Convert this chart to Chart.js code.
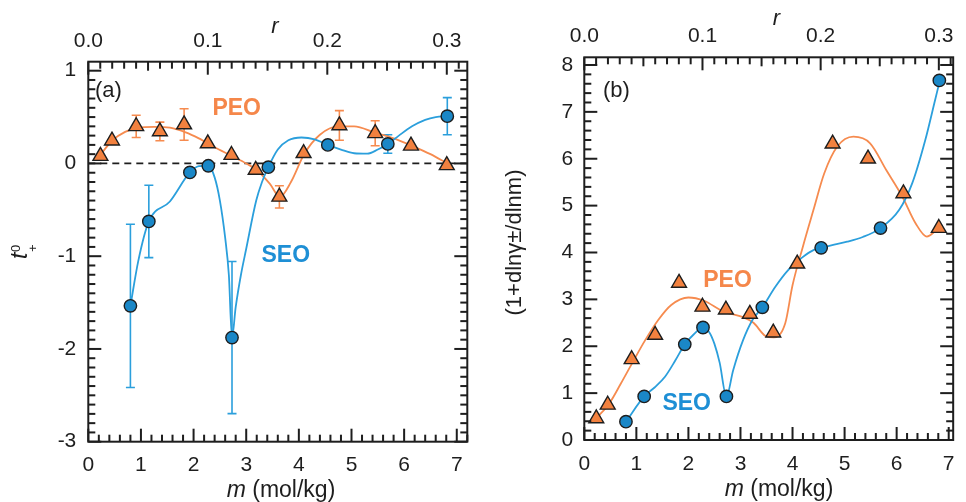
<!DOCTYPE html>
<html>
<head>
<meta charset="utf-8">
<script src="https://cdn.jsdelivr.net/npm/chart.js@4.4.1/dist/chart.umd.min.js"></script>
<style>
  html, body { margin: 0; padding: 0; background: #fff; }
  #wrap { position: relative; width: 966px; height: 502px; overflow: hidden; }
  #ca { position: absolute; left: 0; top: 0; }
  #cb { position: absolute; left: 480px; top: 0; }
</style>
</head>
<body>
<div id="wrap">
  <canvas id="ca" width="480" height="502"></canvas>
  <canvas id="cb" width="486" height="502"></canvas>
</div>
<script>
// r = [Li]/[EO] follows from molality through the EO repeat-unit mass (kg/mol)
const EO_MASS = 0.04405;

// Molalities of the measured electrolytes (mol/kg)
const peoM = [0.23, 0.45, 0.91, 1.36, 1.82, 2.27, 2.72, 3.18, 3.63, 4.09, 4.77, 5.45, 6.13, 6.81];
const seoM = [0.80, 1.15, 1.93, 2.28, 2.73, 3.42, 4.55, 5.69, 6.82];

// (a) cation transference number t+0
const peoT = [0.08, 0.245, 0.40, 0.345, 0.42, 0.215, 0.09, -0.07, -0.36, 0.11, 0.41, 0.325, 0.19, -0.02];
const peoTErr = [0, 0, 0.12, 0.10, 0.17, 0, 0, 0, 0.12, 0, 0.16, 0.135, 0, 0];
const seoT = [-1.535, -0.625, -0.097, -0.025, -1.877, -0.04, 0.20, 0.21, 0.51];
const seoTErr = [0.88, 0.39, 0, 0, 0.82, 0, 0, 0.10, 0.20];

// (a) guide-to-the-eye curves
const peoTCurveM = [0.2, 0.45, 0.7, 0.95, 1.25, 1.55, 1.85, 2.1, 2.4, 2.73, 3.0, 3.2, 3.45, 3.64, 3.85, 4.1, 4.4, 4.75, 5.05, 5.45, 5.8, 6.15, 6.5, 6.82];
const peoTCurve = [0.07, 0.245, 0.34, 0.385, 0.395, 0.385, 0.335, 0.27, 0.175, 0.08, 0.0, -0.07, -0.22, -0.36, -0.2, 0.1, 0.31, 0.4, 0.4, 0.33, 0.27, 0.19, 0.1, 0.0];
const seoTCurveM = [0.8, 0.95, 1.15, 1.55, 1.93, 2.1, 2.28, 2.4, 2.5, 2.6, 2.67, 2.73, 2.8, 2.9, 3.0, 3.19, 3.3, 3.42, 3.6, 3.8, 4.05, 4.3, 4.55, 4.8, 5.05, 5.3, 5.5, 5.69, 5.9, 6.15, 6.4, 6.6, 6.82];
const seoTCurve = [-1.535, -1.05, -0.625, -0.41, -0.097, -0.03, -0.025, -0.15, -0.4, -0.8, -1.2, -1.877, -1.55, -1.2, -0.92, -0.4, -0.2, -0.04, 0.15, 0.25, 0.28, 0.26, 0.2, 0.15, 0.11, 0.105, 0.15, 0.21, 0.3, 0.4, 0.47, 0.5, 0.51];

// (b) thermodynamic factor (1 + dln(gamma+-)/dln m)
const peoTF = [0.46, 0.75, 1.72, 2.24, 3.35, 2.84, 2.78, 2.69, 2.29, 3.76, 6.32, 6.0, 5.26, 4.52];
const seoTF = [0.39, 0.93, 2.04, 2.4, 0.93, 2.83, 4.1, 4.52, 7.67];

// (b) guide-to-the-eye curves
const peoTFCurveM = [0.23, 0.48, 0.7, 0.92, 1.17, 1.42, 1.67, 2.0, 2.3, 2.67, 3.05, 3.25, 3.48, 3.64, 3.86, 4.0, 4.2, 4.4, 4.61, 4.86, 5.17, 5.49, 5.8, 6.11, 6.36, 6.58, 6.77, 6.83];
const peoTFCurve = [0.46, 0.78, 1.2, 1.64, 2.13, 2.56, 2.88, 3.04, 2.97, 2.74, 2.62, 2.5, 2.22, 2.19, 2.49, 3.3, 4.13, 4.9, 5.69, 6.26, 6.47, 6.33, 5.76, 5.19, 4.63, 4.34, 4.48, 4.52];
const seoTFCurveM = [0.8, 1.15, 1.35, 1.55, 1.75, 1.93, 2.1, 2.28, 2.4, 2.5, 2.6, 2.73, 2.86, 3.05, 3.23, 3.42, 3.67, 3.92, 4.17, 4.42, 4.55, 4.8, 5.05, 5.35, 5.69, 6.05, 6.3, 6.55, 6.74, 6.83];
const seoTFCurve = [0.39, 0.93, 1.12, 1.35, 1.7, 2.04, 2.25, 2.4, 2.3, 2.05, 1.65, 0.93, 1.49, 2.13, 2.56, 2.83, 3.27, 3.63, 3.88, 4.06, 4.1, 4.17, 4.23, 4.33, 4.52, 4.91, 5.48, 6.4, 7.26, 7.67];

// Axis ranges
const A_X = [0, 7.2], A_Y = [-3, 1.097];
const B_X = [0, 7.086], B_Y = [0, 8.164];

const FONT = "'Liberation Sans', Arial, Helvetica, sans-serif";
const INK = '#1e1e1e';
const ORANGE_FILL = '#F2813F', ORANGE_LINE = '#F68B4F', ORANGE_TEXT = '#F5874A';
const BLUE_FILL = '#1A87C7', BLUE_LINE = '#2B9FDC', BLUE_TEXT = '#1E8FD5';

const pts = (xs, ys) => xs.map((x, i) => ({ x, y: ys[i] }));

function curveSet(xs, ys, color, order) {
  return {
    data: pts(xs, ys), showLine: true, borderColor: color, borderWidth: 1.8,
    pointRadius: 0, cubicInterpolationMode: 'monotone', order
  };
}
function markerSet(xs, ys, style, fill, radius, order, err, errColor) {
  return {
    data: pts(xs, ys), showLine: false, pointStyle: style, pointRadius: radius,
    pointBackgroundColor: fill, pointBorderColor: INK, pointBorderWidth: 1.4,
    order, errors: err, errorColor: errColor
  };
}

// vertical error bars with caps, drawn under the markers
const errorBars = {
  id: 'errorBars',
  beforeDatasetsDraw(chart) {
    const { ctx } = chart;
    const xs = chart.scales.x, ys = chart.scales.y;
    ctx.save();
    chart.data.datasets.forEach(ds => {
      if (!ds.errors) return;
      ctx.strokeStyle = ds.errorColor; ctx.lineWidth = 1.6;
      ds.data.forEach((p, i) => {
        const e = ds.errors[i];
        if (!e) return;
        const px = xs.getPixelForValue(p.x);
        const top = ys.getPixelForValue(p.y + e), bot = ys.getPixelForValue(p.y - e);
        ctx.beginPath();
        ctx.moveTo(px, top); ctx.lineTo(px, bot);
        ctx.moveTo(px - 4.5, top); ctx.lineTo(px + 4.5, top);
        ctx.moveTo(px - 4.5, bot); ctx.lineTo(px + 4.5, bot);
        ctx.stroke();
      });
    });
    ctx.restore();
  }
};

// inward tick marks on one edge of the plot area: major / optional mid / minor
function tickMarks(ctx, scale, lo, hi, minor, majorEvery, midEvery, edge, dir, horizontal) {
  const k0 = Math.round(lo / minor), k1 = Math.floor(hi / minor + 1e-6);
  for (let k = k0; k <= k1; k++) {
    const major = Math.abs(k) % majorEvery === 0;
    const mid = midEvery > 0 && Math.abs(k) % midEvery === 0;
    const len = major ? 13 : (mid ? 9 : 7);
    const p = scale.getPixelForValue(k * minor);
    if (horizontal) ctx.fillRect(p - 1, dir > 0 ? edge : edge - len, 2, len);
    else ctx.fillRect(dir > 0 ? edge : edge - len, p - 1, len, 2);
  }
}
function framePlugin(xr, yr, yMinor, yMajorEvery) {
  return {
    id: 'frame',
    afterDraw(chart) {
      const ctx = chart.ctx, a = chart.chartArea, s = chart.scales;
      ctx.save();
      ctx.fillStyle = INK;
      tickMarks(ctx, s.x, xr[0], xr[1], 0.2, 5, 0, a.bottom, -1, true);
      tickMarks(ctx, s.x2, xr[0] * EO_MASS, xr[1] * EO_MASS, 0.01, 10, 5, a.top, 1, true);
      tickMarks(ctx, s.y, yr[0], yr[1], yMinor, yMajorEvery, 0, a.left, 1, false);
      tickMarks(ctx, s.y, yr[0], yr[1], yMinor, yMajorEvery, 0, a.right, -1, false);
      ctx.strokeStyle = INK; ctx.lineWidth = 2;
      ctx.strokeRect(a.left, a.top, a.right - a.left, a.bottom - a.top);
      ctx.restore();
    }
  };
}

// text drawn inside and around the plot
function textPlugin(draw) {
  return { id: 'texts', afterDraw(chart) { const c = chart.ctx; c.save(); draw(c, chart); c.restore(); } };
}
function mixedTitle(ctx, cx, baseline, size) {
  const a = 'italic ' + size + 'px ' + FONT, b = size + 'px ' + FONT;
  ctx.font = a; const w1 = ctx.measureText('m').width;
  ctx.font = b; const w2 = ctx.measureText(' (mol/kg)').width;
  const x0 = cx - (w1 + w2) / 2;
  ctx.fillStyle = INK; ctx.textBaseline = 'alphabetic'; ctx.textAlign = 'left';
  ctx.font = a; ctx.fillText('m', x0, baseline);
  ctx.font = b; ctx.fillText(' (mol/kg)', x0 + w1, baseline);
}
function rLabel(ctx, cx, baseline) {
  ctx.fillStyle = INK; ctx.font = 'italic 22px ' + FONT;
  ctx.textAlign = 'center'; ctx.textBaseline = 'alphabetic';
  ctx.fillText('r', cx, baseline);
}
function seriesLabel(ctx, text, color, cx, baseline) {
  ctx.fillStyle = color; ctx.font = 'bold 23px ' + FONT;
  ctx.textAlign = 'center'; ctx.textBaseline = 'alphabetic';
  ctx.fillText(text, cx, baseline);
}

const tickFont = { family: FONT, size: 21 };

function axes(xr, yr, yStep, leftW, topH, bottomH, yPad, topPad, botPad) {
  return {
    x: {
      type: 'linear', axis: 'x', position: 'bottom', min: xr[0], max: xr[1],
      grid: { display: false, drawTicks: false }, border: { display: false },
      ticks: { stepSize: 1, includeBounds: false, font: tickFont, color: INK, padding: botPad, maxRotation: 0,
               callback: v => String(v) },
      afterFit: s => { s.height = bottomH; }
    },
    // top axis: r = m * EO_MASS
    x2: {
      type: 'linear', axis: 'x', position: 'top', min: xr[0] * EO_MASS, max: xr[1] * EO_MASS,
      grid: { display: false, drawTicks: false }, border: { display: false },
      ticks: { stepSize: 0.1, includeBounds: false, font: tickFont, color: INK, padding: topPad, maxRotation: 0,
               callback: v => v.toFixed(1) },
      afterFit: s => { s.height = topH; }
    },
    y: {
      type: 'linear', axis: 'y', position: 'left', min: yr[0], max: yr[1],
      grid: { display: false, drawTicks: false }, border: { display: false },
      ticks: { stepSize: yStep, includeBounds: false, font: tickFont, color: INK, padding: yPad,
               callback: v => String(v) },
      afterFit: s => { s.width = leftW; }
    }
  };
}

const common = {
  responsive: false, animation: false, events: [],
  plugins: { legend: { display: false }, tooltip: { enabled: false } }
};

// Panel (a)
new Chart(document.getElementById('ca'), {
  type: 'scatter',
  data: {
    datasets: [
      markerSet(seoM, seoT, 'circle', BLUE_FILL, 6.2, 0, seoTErr, BLUE_LINE),
      markerSet(peoM, peoT, 'triangle', ORANGE_FILL, 8.6, 1, peoTErr, ORANGE_LINE),
      curveSet(seoTCurveM, seoTCurve, BLUE_LINE, 2),
      curveSet(peoTCurveM, peoTCurve, ORANGE_LINE, 3),
      { data: [{ x: A_X[0], y: 0 }, { x: A_X[1], y: 0 }], showLine: true, borderColor: INK,
        borderWidth: 1.8, borderDash: [7, 5], pointRadius: 0, order: 4 }
    ]
  },
  options: Object.assign({}, common, {
    layout: { padding: { left: 0, right: 12.7, top: 0, bottom: 0 } },
    scales: axes(A_X, A_Y, 1, 88.3, 61.7, 60.3, 12, 8, 10.6)
  }),
  plugins: [errorBars, framePlugin(A_X, A_Y, 0.1, 10), textPlugin((ctx) => {
    mixedTitle(ctx, 281, 497, 23);
    rLabel(ctx, 275, 33);
    ctx.fillStyle = INK; ctx.font = '22px ' + FONT; ctx.textAlign = 'left'; ctx.textBaseline = 'alphabetic';
    ctx.fillText('(a)', 95, 97);
    seriesLabel(ctx, 'PEO', ORANGE_TEXT, 236.7, 115);
    seriesLabel(ctx, 'SEO', BLUE_TEXT, 285.8, 261.7);
    // y-axis title: t with subscript + and superscript 0
    ctx.translate(27, 259); ctx.rotate(-Math.PI / 2);
    ctx.fillStyle = INK; ctx.textAlign = 'left';
    ctx.font = 'italic 23px ' + FONT; ctx.fillText('t', 0, 0);
    const tw = ctx.measureText('t').width;
    ctx.font = '13px ' + FONT;
    ctx.fillText('0', tw + 0.5, -7);
    ctx.fillText('+', tw + 0.5, 10);
  })]
});

// Panel (b)
new Chart(document.getElementById('cb'), {
  type: 'scatter',
  data: {
    datasets: [
      markerSet(seoM, seoTF, 'circle', BLUE_FILL, 6.2, 0, null, null),
      markerSet(peoM, peoTF, 'triangle', ORANGE_FILL, 8.6, 1, null, null),
      curveSet(seoTFCurveM, seoTFCurve, BLUE_LINE, 2),
      curveSet(peoTFCurveM, peoTFCurve, ORANGE_LINE, 3)
    ]
  },
  options: Object.assign({}, common, {
    layout: { padding: { left: 0, right: 4, top: 0, bottom: 0 } },
    scales: axes(B_X, B_Y, 1, 104.3, 57.3, 62, 11, 8.6, 11.3)
  }),
  plugins: [errorBars, framePlugin(B_X, B_Y, 0.2, 5), textPlugin((ctx) => {
    mixedTitle(ctx, 779 - 480, 496, 23);
    rLabel(ctx, 776.5 - 480, 25);
    ctx.fillStyle = INK; ctx.font = '22px ' + FONT; ctx.textAlign = 'left'; ctx.textBaseline = 'alphabetic';
    ctx.fillText('(b)', 603 - 480, 97);
    seriesLabel(ctx, 'PEO', ORANGE_TEXT, 727.5 - 480, 286.7);
    seriesLabel(ctx, 'SEO', BLUE_TEXT, 686.7 - 480, 410);
    ctx.translate(515 - 480, 242.5); ctx.rotate(-Math.PI / 2);
    ctx.fillStyle = INK; ctx.font = '22px ' + FONT; ctx.textAlign = 'center'; ctx.textBaseline = 'middle';
    ctx.fillText('(1+dlnγ±/dlnm)', 0, 0);
  })]
});
</script>
</body>
</html>
